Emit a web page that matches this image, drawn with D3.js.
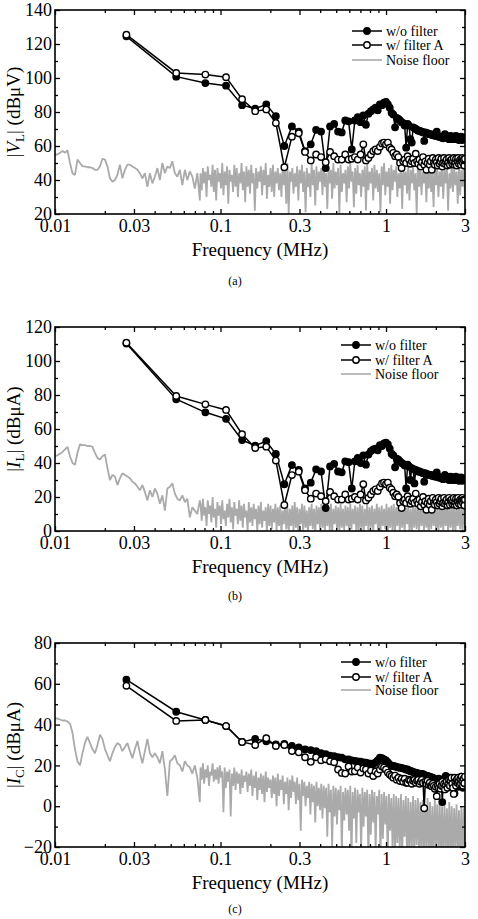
<!DOCTYPE html>
<html>
<head>
<meta charset="utf-8">
<script src="https://cdn.jsdelivr.net/npm/d3@7"></script>
<style>
  body { margin: 0; background: #fff; }
  svg, svg text { font-family: "Liberation Serif", "Times New Roman", Times, Tinos, "DejaVu Serif", "Noto Serif", serif; }
</style>
</head>
<body>
<svg id="chart" width="478" height="919"></svg>
<script>
const serif = '"Liberation Serif", "Times New Roman", Times, Tinos, "DejaVu Serif", "Noto Serif", serif';

// harmonics of the 27 kHz switching frequency, in MHz
const fundamental = 0.027;
const harmonicOrders = d3.range(1, 112);

const xMajorTicks = [0.01, 0.03, 0.1, 0.3, 1, 3];
const xTickLabels = ['0.01', '0.03', '0.1', '0.3', '1', '3'];
const xMinorTicks = [0.02, 0.04, 0.05, 0.06, 0.07, 0.08, 0.09, 0.2, 0.4, 0.5, 0.6, 0.7, 0.8, 0.9, 2];
const legendLabels = ['w/o filter', 'w/ filter A', 'Noise floor'];

// noise sweep: coarse part up to 0.075 MHz, dense part above it
const noiseLowSpan = [0.01, 0.075];
const noiseHighSpan = [0.0757, 3];

// (a) |V_L| dBuV
const vlWithout = [124.5, 100.8, 97, 95.5, 84, 82, 84.5, 77.5, 60, 71.5,
  68.5, 57, 61, 69.5, 68.5, 47, 71.5, 73, 68.5, 68,
  75, 74.5, 58, 75, 77, 74, 78, 72.5, 79, 80.5,
  81.5, 82.5, 81, 84.5, 84, 85.5, 86, 84.5, 82.5, 79.5,
  78.5, 71, 76.5, 76, 75, 74, 73.5, 72, 59, 73,
  72, 64, 62, 71, 70.5, 70, 69.5, 69, 69, 68.5,
  68.5, 68, 63, 68, 67.5, 67.5, 67, 67, 67, 66.5,
  66.5, 66.5, 66, 66, 68.5, 66, 65.5, 65.5, 65.5, 65,
  65, 64.5, 65, 67, 65, 66, 65.5, 65, 64, 65,
  66, 64.5, 64, 65, 65.5, 64.5, 64, 66, 64, 65,
  64.5, 63.5, 65, 64, 65.5, 64, 63.5, 65, 64, 64.5, 65];
const vlWithA = [125.5, 103, 102, 100.5, 87.5, 80.5, 81.5, 73.5, 47.5, 65.5,
  67.5, 56.5, 51.5, 55, 53.5, 50.5, 56.5, 54, 52, 52,
  55, 52, 52.5, 53.5, 52, 55, 61, 51.5, 53, 55,
  57, 58, 57, 59.5, 61.5, 62, 61, 62, 59, 58,
  56, 54, 55, 53.5, 50, 47, 51, 52, 50, 54,
  52, 49.5, 51, 52.5, 50, 55.5, 51, 49.5, 52, 48,
  50.5, 53.5, 49, 51, 46, 50, 52.5, 49, 51, 46,
  53, 50, 49, 52, 50.5, 48.5, 53, 49.5, 51, 52.5,
  48, 50, 53, 49.5, 51, 52, 48.5, 50.5, 53, 49,
  51.5, 52, 49.5, 51, 53, 49, 50.5, 52.5, 48.5, 51,
  53, 49.5, 51, 52, 49, 51.5, 53, 50, 52, 48.5, 52.5];
const vlNoiseLow = [55, 55, 56, 57, 56, 57.5, 50, 44, 43, 52,
  50, 48, 48, 47.5, 47.5, 47, 46, 46, 48, 52.5,
  52, 48, 41, 39, 40, 43, 49, 41, 46, 49,
  49, 48, 47, 46, 44, 41, 44, 36, 44, 38,
  42, 47, 40, 50, 44, 48, 47, 51, 44, 42,
  46, 37, 46, 40, 45, 42, 35, 44, 28];
const vlNoiseHigh = [
  44, 34, 47, 38, 45, 30, 48, 40, 43, 36, 49, 33, 46, 28, 47, 39, 44, 35, 50, 31,
  45, 37, 48, 26, 46, 39, 43, 33, 49, 36, 47, 30, 44, 38, 50, 34, 45, 27, 48, 36,
  46, 32, 49, 38, 44, 22, 47, 35, 45, 39, 48, 31, 46, 37, 50, 29, 43, 36, 47, 33,
  49, 30, 45, 38, 47, 34, 44, 30, 48, 37, 46, 26, 50, 20, 45, 39, 47, 32, 44, 36,
  48, 28, 46, 38, 49, 33, 45, 21, 47, 36, 44, 30, 50, 37, 46, 25, 48, 34, 45, 39,
  47, 31, 49, 36, 44, 23, 48, 38, 46, 29, 50, 35, 45, 37, 47, 20, 49, 33, 44, 38,
  46, 27, 48, 35, 50, 39, 45, 24, 47, 32, 49, 37, 44, 30, 46, 36, 48, 22, 50, 34,
  45, 38, 47, 28, 49, 35, 46, 33, 44, 21, 48, 37, 50, 31, 45, 36, 47, 26, 49, 34,
  46, 39, 48, 30, 44, 35, 50, 23, 47, 37, 45, 32, 49, 28, 46, 38, 48, 34, 44, 20,
  50, 36, 47, 31, 45, 38, 49, 27, 46, 35, 48, 33, 44, 24, 50, 37, 47, 30, 45, 36,
  49, 29, 46, 38, 48, 22, 44, 35, 50, 33, 47, 37, 45, 26, 49, 31, 46, 36, 48, 28];

// (b) |I_L| dBuA
const ilWithout = [110.3, 77.5, 69.8, 66, 53.5, 50.2, 52.9, 45.3, 27.5, 38.8,
  35.9, 25, 28.4, 36.3, 35, 13.5, 38, 39.5, 35, 34.5,
  41, 40.5, 25, 41, 43, 40, 44.5, 39, 45, 47,
  48, 48.5, 47.5, 50.5, 50, 51.5, 52, 51, 48.5, 45.5,
  44.5, 37.5, 42.5, 42, 41, 40, 39.5, 38.5, 25, 39,
  38, 30, 37, 36.5, 28, 36, 35.5, 35, 35, 34.5,
  34.5, 34, 29, 34, 33.5, 33.5, 33, 33, 33, 32.5,
  32.5, 32.5, 32, 32, 34.5, 32, 31.5, 31.5, 31.5, 31,
  31, 30.5, 31, 33, 31, 32, 31.5, 31, 30, 31,
  32, 30.5, 30, 31, 31.5, 30.5, 30, 32, 30, 31,
  30.5, 29.5, 31, 30, 31.5, 30, 29.5, 31, 30, 30.5, 31];
const ilWithA = [110.8, 79.4, 74.5, 71.2, 56.9, 48.8, 49.6, 41.4, 15.3, 32.9,
  34.9, 24, 19, 22, 20.5, 17.5, 23, 20.5, 18.5, 18.5,
  21.5, 18.5, 19, 20, 18.5, 21.5, 27.5, 18, 19.5, 21.5,
  23.5, 24.5, 23.5, 26, 28, 28.5, 27.5, 28.5, 25.5, 24.5,
  22.5, 20.5, 21.5, 20, 16.5, 13.5, 17.5, 18.5, 16.5, 20.5,
  18.5, 16, 17.5, 19, 16.5, 22, 17.5, 16, 18.5, 14.5,
  17, 20, 15.5, 17.5, 12.5, 16.5, 19, 15.5, 17.5, 12.5,
  19.5, 16.5, 15.5, 18.5, 17, 15, 19.5, 16, 17.5, 19,
  14.5, 16.5, 19.5, 16, 17.5, 18.5, 15, 17, 19.5, 15.5,
  18, 18.5, 16, 17.5, 19.5, 15.5, 17, 19, 15, 17.5,
  19.5, 16, 17.5, 18.5, 15.5, 18, 19.5, 16.5, 18.5, 15, 18.5];
const ilNoiseLow = [44, 44.5, 45.5, 46.5, 48, 49.5, 44, 40, 39, 46,
  51, 50.5, 50.5, 50, 50, 49.5, 46, 43, 42, 44,
  45, 37, 30, 33, 32, 27, 31, 34, 33, 32,
  31, 29, 28, 26, 24, 27, 23, 18, 24, 20,
  25, 22, 16, 21, 12, 25, 26, 28, 22, 19,
  18, 21, 17, 19, 8, 14, 12, 10, 18];
const ilNoiseHigh = [
  16, 6, 19, 9, 14, 3, 18, 10, 15, 5, 20, 8, 13, 2, 17, 9, 15, 4, 18, 7,
  12, 3, 16, 8, 19, 5, 14, 1, 17, 9, 13, 4, 18, 6, 15, 2, 16, 8, 12, 0,
  17, 5, 14, 3, 16, 7, 13, 0, 15, 4, 17, 2, 12, 6, 14, -1, 16, 3, 15, 1,
  13, 5, 16, 0, 14, 3, 15, -2, 12, 4, 16, 1, 14, -1, 13, 3, 15, 0, 17, 2,
  14, -2, 13, 4, 16, 0, 15, 2, 12, -1, 14, 3, 16, 1, 13, -2, 15, 4, 14, 0,
  16, 2, 13, -1, 15, 3, 14, 0, 16, -2, 13, 4, 15, 1, 14, -1, 16, 2, 13, 0,
  15, 3, 14, -2, 16, 1, 13, 4, 15, 0, 14, -1, 16, 2, 15, -2, 13, 3, 16, 0,
  14, 2, 15, -1, 13, 4, 16, 0, 14, -2, 15, 3, 13, 1, 16, -1, 14, 2, 15, 0,
  16, -2, 14, 3, 15, 0, 13, 2, 16, -1, 14, 4, 15, 0, 13, -2, 16, 2, 14, 1,
  15, -1, 16, 3, 14, 0, 15, 2, 13, -2, 16, 1, 14, 3, 15, 0, 13, -1, 16, 2,
  14, 0, 15, 3, 16, -1, 14, 2, 15, 0, 16, -2, 13, 3, 15, 1, 14, -1, 16, 2];

// (c) |I_C| dBuA
const icWithout = [62, 46.3, 42.3, 39.3, 31.5, 33, 31.8, 30.3, 30.5, 29.6,
  28.8, 27.9, 27.5, 27, 26, 25.5, 24.8, 24.5, 24, 23.8,
  23, 23, 22.5, 22.2, 22, 21.8, 21.5, 21.4, 21, 20.8,
  20.6, 21.5, 22.5, 23.8, 23.5, 23, 22.5, 21.5, 20.5, 19.7,
  19.8, 19.5, 19.2, 19, 18.9, 18.7, 18.5, 18.3, 18, 18,
  17.5, 17.3, 17, 16.8, 16.5, 16.5, 16.2, 16, 16, 15.8,
  15.8, 15.7, 15.3, 15, 15, 14.8, 14.5, 14.5, 14.2, 14,
  14, 13.5, 13, 12.8, 12.4, 13, 13.5, 13, 12.5, 12,
  2, 11, 12.5, 14, 14.8, 13.5, 12, 13, 14, 11,
  12.5, 13.5, 10, 12, 11.5, 6.3, 10, 12.5, 11, 13,
  9.5, 12, 14, 10, 12.5, 14.5, 11, 9, 12.5, 14, 12.3];
const icWithA = [59, 41.8, 42.3, 39.3, 31.5, 30, 33.3, 29.5, 30, 27,
  26.4, 24, 21.7, 24, 22.5, 23, 22, 21.5, 18, 16.3,
  16, 19.5, 17, 17.1, 19, 16.5, 18.5, 18, 16, 17.5,
  14.8, 17, 16, 18, 19.5, 19, 18, 16.5, 15.5, 14.8,
  14, 15, 13, 14, 12.3, 13.5, 12, 13.5, 11.5, 11.5,
  13, 12.5, 11, 12.5, 13, 11.5, 12.5, 13, 11, 12,
  13, 11.5, -1, 12, 11, 12.5, 10.5, 11.5, 10, 9.8,
  11, 10, 8.5, 9.5, 4.9, 10, 9, 11, 8.5, 10,
  12, 9.5, 11, 8.2, 10.5, 12, 9, 11, 13, 10,
  12.5, 14, 11, 9, 6, 14, 12, 10, 13, 11.5,
  14, 12, 10.5, 13.5, 11, 14.5, 12.5, 10, 13.5, 11.2, 14.5];
const icNoiseLow = [43, 43, 42.5, 42, 42, 41.5, 40.5, 36, 28, 22,
  20, 26, 31, 34, 31, 28, 26, 30, 35, 33,
  28, 25, 22, 26, 29, 31, 30, 27, 29, 31,
  27, 23.5, 28, 32, 26, 21, 27, 33, 26, 24,
  26, 24, 21, 27, 18, 5, 22, 23, 25, 21,
  20, 17, 22, 20, 19, 16, 20, 14, 2];
const icNoiseHigh = [
  19, 13, 21, 11, 18, 14, 20, 10, 17, 15, 21, 12, 18, 13, 19, 11, 20, 14, 17, -3,
  19, 9, 17, 12, 18, -5, 16, 10, 19, 8, 17, 11, 16, 6, 18, 9, 15, 12, 17, 7,
  16, 10, 18, 5, 15, 9, 17, 3, 14, 8, 16, 6, 15, 2, 17, 7, 14, 9, 13, 4,
  15, 6, 14, 0, 16, 5, 13, 8, 15, 1, 12, 6, 14, -2, 13, 4, 15, 7, 12, 1,
  14, 3, 11, -12, 13, 5, 12, 0, 10, 4, 12, -4, 11, 2, 10, -8, 12, 0, 9, -2,
  11, -6, 10, -1, 9, -15, 11, -3, 8, -20, 10, -5, 9, -9, 8, -2, 10, -22, 7, -7,
  9, -4, 8, -12, 10, -25, 7, -6, 9, -18, 8, -3, 6, -22, 9, -10, 7, -5, 8, -25,
  6, -14, 8, -8, 7, -22, 5, -4, 8, -25, 6, -16, 7, -9, 5, -25, 6, -12, 4, -20,
  6, -25, 5, -18, 4, -22, 6, -25, 3, -15, 5, -24, 4, -25, 2, -20, 5, -25, 3, -19,
  4, -25, 2, -23, 3, -25, 1, -21, 4, -25, 2, -24, 0, -25, 3, -20, 1, -25, 2, -23,
  0, -25, 1, -22, -1, -25, 2, -24, 0, -25, -1, -21, 1, -25, -2, -24, 0, -25, -1, -22];

const panels = [
  { top: 10, yDomain: [20, 140], symbol: 'V', sub: 'L', unit: '(dBμV)',
    without: vlWithout, withA: vlWithA, noiseLow: vlNoiseLow, noiseHigh: vlNoiseHigh,
    legendX: 352, legendRows: [21, 35, 50], caption: '(a)', captionGap: 71 },
  { top: 327, yDomain: [0, 120], symbol: 'I', sub: 'L', unit: '(dBμA)',
    without: ilWithout, withA: ilWithA, noiseLow: ilNoiseLow, noiseHigh: ilNoiseHigh,
    legendX: 341, legendRows: [18, 33, 47], caption: '(b)', captionGap: 69 },
  { top: 643, yDomain: [-20, 80], symbol: 'I', sub: 'C', unit: '(dBμA)',
    without: icWithout, withA: icWithA, noiseLow: icNoiseLow, noiseHigh: icNoiseHigh,
    legendX: 341, legendRows: [19, 34, 47], caption: '(c)', captionGap: 66 },
];

const left = 55, right = 465, plotHeight = 204;
const noiseColor = '#aaaaaa';
const svg = d3.select('#chart');

const x = d3.scaleLog().domain([0.01, 3]).range([left, right]);

// log-spaced sweep grid for a run of noise readings
function sweep(values, [f0, f1]) {
  return values.map((v, i) => [f0 * Math.pow(f1 / f0, i / (values.length - 1)), v]);
}

function styleAxis(g) {
  g.select('.domain').remove();
  g.selectAll('line').attr('stroke', '#000').attr('stroke-width', 1.3);
  g.selectAll('text')
    .attr('font-family', serif)
    .attr('font-size', 18)
    .attr('fill', '#000');
}

panels.forEach((p, pi) => {
  const bottom = p.top + plotHeight;
  const y = d3.scaleLinear().domain(p.yDomain).range([bottom, p.top]);
  const g = svg.append('g');

  const clipId = `clip-${pi}`;
  g.append('clipPath').attr('id', clipId)
    .append('rect')
    .attr('x', left).attr('y', p.top)
    .attr('width', right - left).attr('height', plotHeight);

  const plot = g.append('g').attr('clip-path', `url(#${clipId})`);

  const noisePts = sweep(p.noiseLow, noiseLowSpan).concat(sweep(p.noiseHigh, noiseHighSpan));
  plot.append('path')
    .datum(noisePts)
    .attr('fill', 'none')
    .attr('stroke', noiseColor)
    .attr('stroke-width', 1.8)
    .attr('stroke-linejoin', 'bevel')
    .attr('d', d3.line().x((d) => x(d[0])).y((d) => y(d[1])));

  const line = d3.line()
    .x((d, i) => x(harmonicOrders[i] * fundamental))
    .y((d) => y(d));

  [p.without, p.withA].forEach((series) => {
    plot.append('path')
      .datum(series)
      .attr('fill', 'none')
      .attr('stroke', '#000')
      .attr('stroke-width', 1.5)
      .attr('d', line);
  });

  [[p.without, '#000'], [p.withA, '#fff']].forEach(([series, fill]) => {
    plot.append('g')
      .selectAll('circle')
      .data(series)
      .join('circle')
      .attr('cx', (d, i) => x(harmonicOrders[i] * fundamental))
      .attr('cy', (d) => y(d))
      .attr('r', 3.2)
      .attr('fill', fill)
      .attr('stroke', '#000')
      .attr('stroke-width', 1.4);
  });

  // frame
  g.append('rect')
    .attr('x', left).attr('y', p.top)
    .attr('width', right - left).attr('height', plotHeight)
    .attr('fill', 'none')
    .attr('stroke', '#000')
    .attr('stroke-width', 1.6);

  // axes, ticks pointing inward
  const [y0, y1] = p.yDomain;
  const yMajor = d3.range(y0, y1 + 1, 20);
  const yMinor = d3.range(y0 + 10, y1, 20);

  g.append('g')
    .attr('transform', `translate(${left},0)`)
    .call(d3.axisLeft(y).tickValues(yMajor).tickSize(-5).tickPadding(3).tickFormat(d3.format('d')))
    .call(styleAxis);
  g.append('g')
    .attr('transform', `translate(${left},0)`)
    .call(d3.axisLeft(y).tickValues(yMinor).tickSize(-3).tickFormat(''))
    .call(styleAxis);
  g.append('g')
    .attr('transform', `translate(${right},0)`)
    .call(d3.axisRight(y).tickValues(yMajor).tickSize(-5).tickFormat(''))
    .call(styleAxis);
  g.append('g')
    .attr('transform', `translate(${right},0)`)
    .call(d3.axisRight(y).tickValues(yMinor).tickSize(-3).tickFormat(''))
    .call(styleAxis);

  g.append('g')
    .attr('transform', `translate(0,${bottom})`)
    .call(d3.axisBottom(x).tickValues(xMajorTicks).tickSize(-5).tickPadding(5)
      .tickFormat((d, i) => xTickLabels[i]))
    .call(styleAxis);
  g.append('g')
    .attr('transform', `translate(0,${bottom})`)
    .call(d3.axisBottom(x).tickValues(xMinorTicks).tickSize(-3).tickFormat(''))
    .call(styleAxis);
  g.append('g')
    .attr('transform', `translate(0,${p.top})`)
    .call(d3.axisTop(x).tickValues(xMajorTicks).tickSize(-5).tickFormat(''))
    .call(styleAxis);
  g.append('g')
    .attr('transform', `translate(0,${p.top})`)
    .call(d3.axisTop(x).tickValues(xMinorTicks).tickSize(-3).tickFormat(''))
    .call(styleAxis);

  // axis titles
  g.append('text')
    .attr('x', (left + right) / 2)
    .attr('y', bottom + 42)
    .attr('text-anchor', 'middle')
    .attr('font-family', serif)
    .attr('font-size', 19)
    .text('Frequency (MHz)');

  const yt = g.append('text')
    .attr('transform', `translate(20,${(p.top + bottom) / 2}) rotate(-90)`)
    .attr('text-anchor', 'middle')
    .attr('font-family', serif)
    .attr('font-size', 19);
  yt.append('tspan').text('|');
  yt.append('tspan').attr('font-style', 'italic').text(p.symbol);
  yt.append('tspan').attr('font-size', 13).attr('dy', 4).text(p.sub);
  yt.append('tspan').attr('dy', -4).text(`| ${p.unit}`);

  // legend
  const lg = g.append('g');
  const lx0 = p.legendX, lx1 = p.legendX + 30, lxm = p.legendX + 15;
  legendLabels.forEach((label, i) => {
    const ly = p.top + p.legendRows[i];
    lg.append('line')
      .attr('x1', lx0).attr('x2', lx1).attr('y1', ly).attr('y2', ly)
      .attr('stroke', i === 2 ? noiseColor : '#000')
      .attr('stroke-width', i === 2 ? 1.6 : 1.5);
    if (i < 2) {
      lg.append('circle')
        .attr('cx', lxm).attr('cy', ly).attr('r', 3.2)
        .attr('fill', i === 0 ? '#000' : '#fff')
        .attr('stroke', '#000').attr('stroke-width', 1.4);
    }
    lg.append('text')
      .attr('x', lx1 + 4).attr('y', ly + 4.5)
      .attr('font-family', serif)
      .attr('font-size', 14)
      .text(label);
  });

  g.append('text')
    .attr('x', 235)
    .attr('y', bottom + p.captionGap)
    .attr('text-anchor', 'middle')
    .attr('font-family', serif)
    .attr('font-size', 12)
    .text(p.caption);
});
</script>
</body>
</html>
